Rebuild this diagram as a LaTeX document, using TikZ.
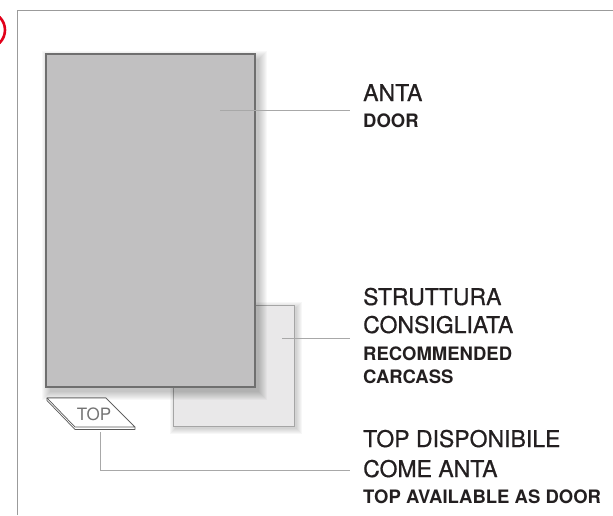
\documentclass[tikz,border=0pt]{standalone}
\usepackage{fontspec}
\setmainfont{TeX Gyre Heros}
\newfontfamily\medfont[FakeBold=0.7]{TeX Gyre Heros}
\usetikzlibrary{calc}
\definecolor{framegrey}{HTML}{9B9B9B}
\definecolor{doorgrey}{HTML}{C1C0C1}
\definecolor{dooredge}{HTML}{6F6F6F}
\definecolor{carcfill}{HTML}{E9E8E9}
\definecolor{carcedge}{HTML}{A5A5A5}
\definecolor{leadgrey}{HTML}{A8A8A8}
\definecolor{inkblack}{HTML}{231F20}
\definecolor{markred}{HTML}{E2001A}

\begin{document}
\begin{tikzpicture}[x=1pt,y=-1pt,
main/.style={font=\medfont\fontsize{23}{27}\selectfont,text=inkblack,inner sep=0pt,anchor=base west},
sub/.style={font=\fontsize{18.5}{22}\selectfont\bfseries,text=inkblack,inner sep=0pt,anchor=base west},
panel/.style={draw=dooredge,line width=1.2pt,fill=doorgrey,inner sep=0pt},
carc/.style={draw=carcedge,line width=0.8pt,fill=carcfill,inner sep=0pt},
lead/.style={draw=leadgrey,line width=1pt},
slab/.style={draw=black!65,line width=0.7pt,fill=white,line join=round}
]
\useasboundingbox (0,0) rectangle (613,515);
% frame + red marker
\draw[framegrey,line width=1pt] (17.5,515) |- (613,10.7);
\draw[markred,line width=2.6pt] (-13,30) circle (18);

% carcass (behind the door)
\foreach \k in {0,...,5}
  \fill[black,opacity=0.03] (175-\k,307-\k) rectangle (297+\k,429+\k);
\node[carc,minimum width=121pt,minimum height=121pt] (carcass) at (233.5,365.5) {};

% door
\foreach \k in {0,...,8}
  \fill[black,opacity=0.028] (50-\k,59-\k) rectangle (259+\k,392+\k);
\node[panel,minimum width=209pt,minimum height=333pt] (door) at (150.5,220.5) {};

% top slab
\filldraw[slab] (47,400.5) -- (75,429.5) -- (135,429.5) -- (135,427) -- (106,398) -- (47,398) -- cycle;
\filldraw[slab] (47,398) -- (106,398) -- (135,427) -- (75,427) -- cycle;
\node[font=\fontsize{17}{19}\selectfont,text=black!55] (toplbl) at (94,414) {TOP};

% labels
\node[main] (anta) at (363,101) {ANTA};
\node[sub] (doorlbl) at ([yshift=-26pt]anta.base west) {DOOR};

\node[main] (strutt) at (363,305) {STRUTTURA};
\node[main] (consig) at ([yshift=-28pt]strutt.base west) {CONSIGLIATA};
\node[sub] (recomm) at ([yshift=-27pt]consig.base west) {RECOMMENDED};
\node[sub] (carclbl) at ([yshift=-23pt]recomm.base west) {CARCASS};

\node[main] (topdisp) at (363,447) {TOP DISPONIBILE};
\node[main] (come) at ([yshift=-30pt]topdisp.base west) {COME ANTA};
\node[sub] (topavail) at ([yshift=-26pt]come.base west) {TOP AVAILABLE AS DOOR};

% leaders
\coordinate (doorpt) at (220,110.7);
\coordinate (carcpt) at (282,338);
\coordinate (toppt) at (100.7,432);
\coordinate (topend) at (350,470.7);
\draw[lead] (doorpt) -- ([xshift=-13pt]doorpt -| anta.west);
\draw[lead] (carcpt) -- ([xshift=-13pt]carcpt -| strutt.west);
\draw[lead] (toppt) |- (topend);
\end{tikzpicture}
\end{document}
